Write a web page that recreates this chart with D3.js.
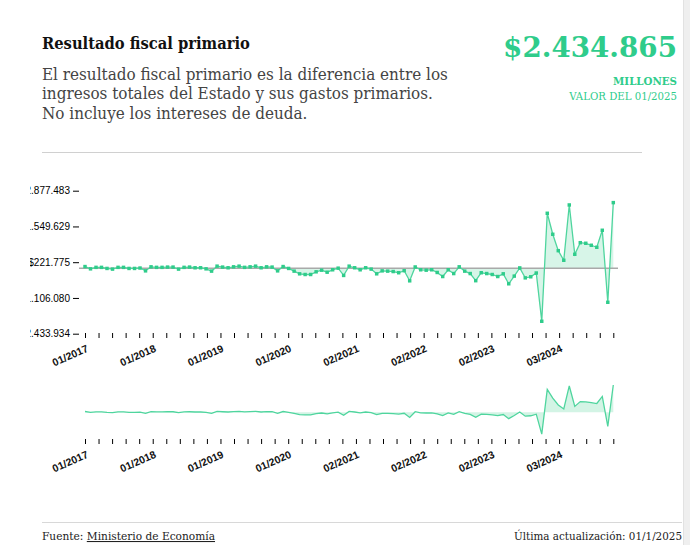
<!DOCTYPE html>
<html><head><meta charset="utf-8">
<script src="https://cdn.jsdelivr.net/npm/d3@7"></script>
<style>
body{margin:0;background:#fff;}
svg{display:block;}
</style></head>
<body>
<svg id="c" width="690" height="545"></svg>
<script>
// ---- data ----
const startYear = 2017, nMonths = 97;
const months = [];
for (let k = 0; k < nMonths; k++) {
  const m = k % 12 + 1, y = startYear + Math.floor(k / 12);
  months.push((m < 10 ? "0" + m : "" + m) + "/" + y);
}
const values = [
  60000, -25000, 30000, 30000, -10000, -35000, 30000, 30000, -10000, -10000,
  5000, -100000, 50000, 30000, 30000, 40000, 40000, -35000, 30000, 40000,
  15000, 15000, -25000, -110000, 75000, 40000, 15000, 50000, 75000, 30000,
  50000, 75000, 15000, 50000, 40000, -100000, 60000, -10000, -110000, -210000,
  -235000, -235000, -135000, -75000, -150000, -60000, 0, -270000, 75000, 15000,
  -60000, 15000, -35000, -210000, -100000, -110000, -125000, -170000, -95000, -470000,
  45000, -60000, -75000, -60000, -160000, -310000, -60000, -200000, 50000, -110000,
  -200000, -465000, -170000, -200000, -235000, -310000, -210000, -580000, -295000, 10000,
  -360000, -320000, -180000, -1972000, 2039000, 1259000, 650000, 293000, 2348000, 516000,
  947000, 925000, 851000, 776000, 1408000, -1267000, 2434865
];
const yTickValues = [-2433934, -1106080, 221775, 1549629, 2877483];
const xTickCount = 40;
const xTickLabels = ["01/2017","01/2018","01/2019","01/2020","02/2021","02/2022","02/2023","03/2024"];
const headline = "$2.434.865";

const GREEN = "#2fcc8b", LINE = "#4fd59e", FILL = "#d3f4e5";
const svg = d3.select("#c");
const fmt = v => (v < 0 ? "-$" : "$") + d3.format(",")(Math.abs(Math.round(v))).replace(/,/g, ".");

// scrollbar-like strip
svg.append("rect").attr("x",683).attr("y",0).attr("width",7).attr("height",545).attr("fill","#efefef");
svg.append("line").attr("x1",683.5).attr("x2",683.5).attr("y1",0).attr("y2",545).attr("stroke","#e2e2e2");

function fit(t, w) {
  const fs = parseFloat(t.attr("font-size"));
  const len = t.node().getComputedTextLength();
  t.attr("font-size", (fs * w / len).toFixed(2));
  return fs * w / len;
}
const SERIF = "'DejaVu Serif', 'Liberation Serif', serif";

// header
const title = svg.append("text").attr("x",42).attr("y",49).attr("font-family",SERIF)
  .attr("font-weight","bold").attr("font-size",16).attr("fill","#111").attr("font-stretch","condensed")
  .text("Resultado fiscal primario");
fit(title, 208);
const desc = ["El resultado fiscal primario es la diferencia entre los",
  "ingresos totales del Estado y sus gastos primarios.",
  "No incluye los intereses de deuda."];
const dl = desc.map((s,i) => svg.append("text").attr("x",42).attr("y",79.5 + i*19.6)
  .attr("font-family",SERIF).attr("font-size",17).attr("fill","#444").attr("font-stretch","condensed").text(s));
const dfs = fit(dl[0], 406);
dl.forEach(t => t.attr("font-size", dfs.toFixed(2)));

const big = svg.append("text").attr("x",677).attr("y",57).attr("text-anchor","end")
  .attr("font-family",SERIF).attr("font-weight","bold").attr("font-size",32).attr("fill",GREEN)
  .text(headline);
fit(big, 174);
const mil = svg.append("text").attr("x",677).attr("y",85).attr("text-anchor","end")
  .attr("font-family",SERIF).attr("font-weight","bold").attr("font-size",11).attr("fill",GREEN).text("MILLONES");
fit(mil, 64);
const val = svg.append("text").attr("x",677).attr("y",100).attr("text-anchor","end")
  .attr("font-family",SERIF).attr("font-size",11).attr("fill",GREEN).text("VALOR DEL 01/2025");
fit(val, 108);

svg.append("line").attr("x1",42).attr("x2",642).attr("y1",152.5).attr("y2",152.5).attr("stroke","#d0d0d0");

// chart area (clipped at x=30)
svg.append("clipPath").attr("id","clipL").append("rect").attr("x",30).attr("y",0).attr("width",660).attr("height",545);
const g = svg.append("g").attr("clip-path","url(#clipL)");

const idx = d3.range(values.length);
const x = d3.scaleLinear().domain([0, values.length - 1]).range([85, 613.3]);
const y = d3.scaleLinear().domain([yTickValues[0], yTickValues[yTickValues.length-1]]).range([333.7, 190.7]);

const xTicks = d3.range(xTickCount).map(k => k * (values.length - 1) / (xTickCount - 1));

// y axis
const yAxis = g.append("g").attr("transform","translate(79,0)")
  .call(d3.axisLeft(y).tickValues(yTickValues).tickSize(6).tickPadding(3).tickFormat(fmt));
yAxis.select(".domain").remove();
yAxis.selectAll("text").attr("font-family","'Liberation Sans', Arial, sans-serif").attr("font-size",10).attr("fill","#000");
yAxis.selectAll("line").attr("stroke","#000");

// main area + line
const area = d3.area().x(i => x(i)).y0(y(0)).y1(i => y(values[i]));
const line = d3.line().x(i => x(i)).y(i => y(values[i]));
g.append("path").datum(idx).attr("d",area).attr("fill",FILL).attr("opacity",0.9);
g.append("line").attr("x1",79).attr("x2",618).attr("y1",y(0)).attr("y2",y(0)).attr("stroke","#a9a9a9").attr("stroke-width",1.5);
g.append("path").datum(idx).attr("d",line).attr("fill","none").attr("stroke",LINE).attr("stroke-width",1.3);
g.selectAll(".pt").data(idx).join("path").attr("class","pt")
  .attr("transform", i => `translate(${x(i)},${y(values[i])})`)
  .attr("d", d3.symbol(d3.symbolSquare, 12)).attr("fill",GREEN);

function xAxisAt(ay) {
  const ax = g.append("g").attr("transform",`translate(0,${ay})`)
    .call(d3.axisBottom(x).tickValues(xTicks).tickSize(5).tickFormat(""));
  ax.select(".domain").remove();
  ax.selectAll("line").attr("stroke","#000");
  const lab = xTicks.filter((d,k) => k % 5 === 0);
  g.append("g").selectAll("text").data(lab).join("text")
    .attr("transform", (d) => `translate(${x(d)+4},${ay+18}) rotate(-24)`)
    .attr("text-anchor","end").attr("font-family","'Liberation Sans', Arial, sans-serif")
    .attr("font-weight","bold").attr("font-size",10.5).attr("fill","#111")
    .text((d,k) => xTickLabels[k]);
}
xAxisAt(333);

// overview chart
const y2 = d3.scaleLinear().domain(d3.extent(values)).range([434.2, 385]);
const area2 = d3.area().x(i => x(i)).y0(y2(0)).y1(i => y2(values[i]));
const line2 = d3.line().x(i => x(i)).y(i => y2(values[i]));
g.append("path").datum(idx).attr("d",area2).attr("fill",FILL);
g.append("path").datum(idx).attr("d",line2).attr("fill","none").attr("stroke",LINE).attr("stroke-width",1.3);
xAxisAt(439);

// footer
svg.append("line").attr("x1",42).attr("x2",682).attr("y1",522.5).attr("y2",522.5).attr("stroke","#d8d8d8");
const f1 = svg.append("text").attr("x",42).attr("y",540).attr("font-family",SERIF).attr("font-size",12).attr("fill","#222");
f1.append("tspan").text("Fuente: ");
f1.append("tspan").attr("text-decoration","underline").text("Ministerio de Economía");
fit(f1, 173);
const f2 = svg.append("text").attr("x",682).attr("y",540).attr("text-anchor","end").attr("font-family",SERIF)
  .attr("font-size",12).attr("fill","#222").text("Última actualización: 01/1/2025");
fit(f2, 168);
</script>
</body></html>
